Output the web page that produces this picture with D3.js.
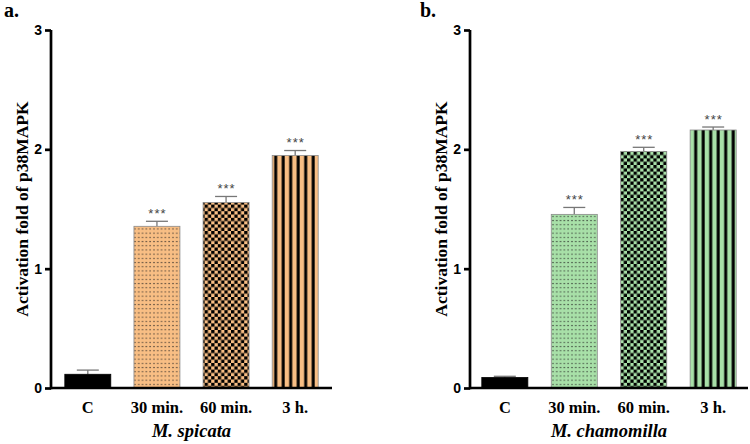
<!DOCTYPE html>
<html><head><meta charset="utf-8">
<script src="https://cdn.jsdelivr.net/npm/d3@7"></script>
<style>body{margin:0;background:#fff}svg{display:block}</style>
</head><body>
<svg id="c" width="750" height="444"></svg>
<script>
const categories = ["C", "30 min.", "60 min.", "3 h."];
const spicataValues = [0.115, 1.355, 1.555, 1.948];
const spicataErrors = [0.035, 0.042, 0.05, 0.042];
const chamomillaValues = [0.088, 1.455, 1.982, 2.162];
const chamomillaErrors = [0.01, 0.058, 0.035, 0.025];
const yTicks = [0, 1, 2, 3];
const stars = ["", "***", "***", "***"];
const panelLabels = ["a.", "b."];
const speciesLabels = ["M. spicata", "M. chamomilla"];
const yTitle = "Activation fold of p38MAPK";

const svg = d3.select("#c");
const defs = svg.append("defs");
const peach = "#F8BE84", green = "#A8E0A8";

function makePatterns(id, col, ox) {
  let p = defs.append("pattern").attr("id", "dots" + id).attr("patternUnits", "userSpaceOnUse")
    .attr("width", 3.8).attr("height", 4.2).attr("x", ox);
  p.append("rect").attr("width", 3.8).attr("height", 4.2).attr("fill", col);
  p.append("rect").attr("x", 1.4).attr("y", 1.6).attr("width", 1.1).attr("height", 1.1).attr("fill", "#222");
  p = defs.append("pattern").attr("id", "chk" + id).attr("patternUnits", "userSpaceOnUse")
    .attr("width", 6.6).attr("height", 6.6).attr("x", ox);
  p.append("rect").attr("width", 6.6).attr("height", 6.6).attr("fill", col);
  p.append("rect").attr("width", 3.3).attr("height", 3.3).attr("fill", "#000");
  p.append("rect").attr("x", 3.3).attr("y", 3.3).attr("width", 3.3).attr("height", 3.3).attr("fill", "#000");
  p = defs.append("pattern").attr("id", "str" + id).attr("patternUnits", "userSpaceOnUse")
    .attr("width", 7.5).attr("height", 10).attr("x", ox);
  p.append("rect").attr("width", 7.5).attr("height", 10).attr("fill", col);
  p.append("rect").attr("x", 4.2).attr("width", 3).attr("height", 10).attr("fill", "#000");
}
makePatterns("a", peach, 0);
makePatterns("b", green, 0);

const panels = [
  {key: "a", values: spicataValues, errors: spicataErrors, x0: 51, x1: 332, pi: 0.335, po: 0.2, lblX: 4, titleX: 22},
  {key: "b", values: chamomillaValues, errors: chamomillaErrors, x0: 470, x1: 748, pi: 0.337, po: 0.17, lblX: 420, titleX: 441}
];

const y = d3.scaleLinear().domain([0, 3]).range([388, 30]);

panels.forEach((P, pi) => {
  const g = svg.append("g");
  const x = d3.scaleBand().domain(categories).range([P.x0, P.x1]).paddingInner(P.pi).paddingOuter(P.po);
  const fills = ["#000", `url(#dots${P.key})`, `url(#chk${P.key})`, `url(#str${P.key})`];
  const data = categories.map((c, i) => ({c, v: P.values[i], e: P.errors[i], f: fills[i], s: stars[i]}));
  const cx = d => x(d.c) + x.bandwidth() / 2;

  const eb = g.selectAll(".eb").data(data).enter().append("g");
  eb.append("line").attr("x1", cx).attr("x2", cx)
    .attr("y1", d => y(d.v)).attr("y2", d => y(d.v + d.e)).attr("stroke", "#777").attr("stroke-width", 1.3);
  eb.append("line").attr("x1", d => cx(d) - 11).attr("x2", d => cx(d) + 11)
    .attr("y1", d => y(d.v + d.e)).attr("y2", d => y(d.v + d.e)).attr("stroke", "#777").attr("stroke-width", 1.3);

  g.selectAll(".bar").data(data).enter().append("rect")
    .attr("x", d => x(d.c)).attr("width", x.bandwidth())
    .attr("y", d => y(d.v)).attr("height", d => y(0) - y(d.v))
    .attr("fill", d => d.f).attr("stroke", (d, i) => i === 0 ? "#000" : "#8a8a8a").attr("stroke-width", 0.8);

  g.selectAll(".st").data(data).enter().append("text")
    .attr("x", d => cx(d) + 0.5).attr("y", d => y(d.v + d.e) - 3.5)
    .attr("text-anchor", "middle").attr("font-family", "Liberation Sans, Arial, sans-serif")
    .attr("font-size", 13).attr("fill", "#444").attr("letter-spacing", 1).text(d => d.s);

  const ya = g.append("g").attr("transform", `translate(${P.x0},0)`)
    .call(d3.axisLeft(y).tickValues(yTicks).tickSize(6).tickPadding(3).tickFormat(d3.format("d")));
  ya.select(".domain").attr("stroke", "#000").attr("stroke-width", 2.7).attr("d", `M0,${y(3)}V${y(0) + 1.3}`);
  ya.selectAll(".tick line").attr("stroke", "#000").attr("stroke-width", 2.7);
  ya.selectAll(".tick text").attr("font-family", "Liberation Sans, Arial, sans-serif")
    .attr("font-weight", "bold").attr("font-size", 14).attr("fill", "#000");

  const xa = g.append("g").attr("transform", `translate(0,${y(0)})`)
    .call(d3.axisBottom(x).tickSize(0).tickPadding(13));
  xa.select(".domain").attr("stroke", "#000").attr("stroke-width", 2.7).attr("d", `M${P.x0},0H${P.x1}`);
  xa.selectAll(".tick text").attr("font-family", "Liberation Serif, Times New Roman, serif")
    .attr("font-weight", "bold").attr("font-size", 16.5).attr("fill", "#000");

  g.append("text").attr("transform", `translate(${P.titleX},${(y(0) + y(3)) / 2}) rotate(-90)`)
    .attr("text-anchor", "middle").attr("dy", "0.35em")
    .attr("font-family", "Liberation Serif, Times New Roman, serif").attr("font-weight", "bold")
    .attr("font-size", 17.5).text(yTitle);
  g.append("text").attr("x", (P.x0 + P.x1) / 2).attr("y", 437).attr("text-anchor", "middle")
    .attr("font-family", "Liberation Serif, Times New Roman, serif").attr("font-weight", "bold")
    .attr("font-style", "italic").attr("font-size", 18.5).text(speciesLabels[pi]);
  g.append("text").attr("x", P.lblX).attr("y", 17)
    .attr("font-family", "Liberation Serif, Times New Roman, serif").attr("font-weight", "bold")
    .attr("font-size", 20).text(panelLabels[pi]);
});
</script>
</body></html>
